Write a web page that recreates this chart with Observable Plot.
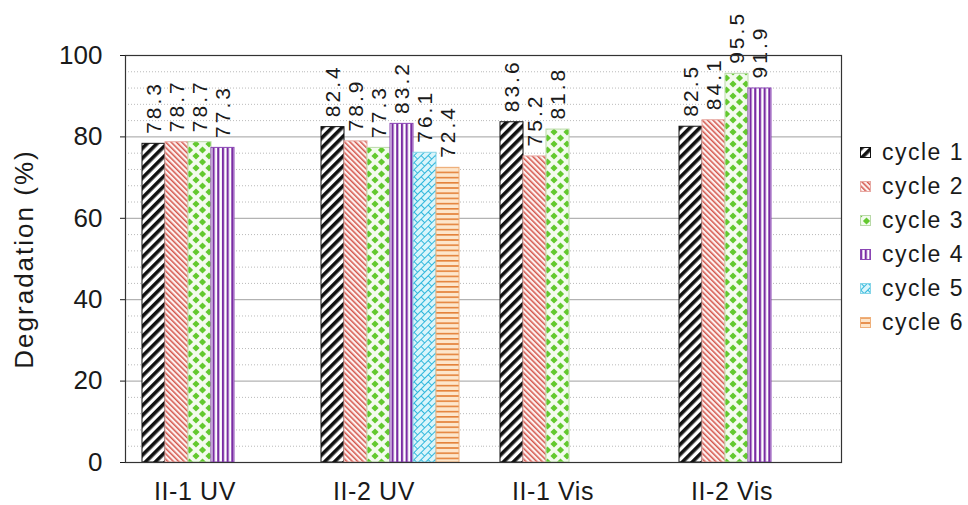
<!DOCTYPE html>
<html>
<head>
<meta charset="utf-8">
<script src="https://cdn.jsdelivr.net/npm/d3@7"></script>
<script src="https://cdn.jsdelivr.net/npm/@observablehq/plot@0.6"></script>
<style>
  html, body { margin: 0; padding: 0; background: #fff; }
  #wrap { position: relative; width: 968px; height: 505px; font-family: "Liberation Sans", Arial, sans-serif; }
  #legend { position: absolute; left: 860px; top: 135px; color: #1a1a1a; font-size: 23px; letter-spacing: 1.5px; }
  #legend .row { display: flex; align-items: center; height: 34px; }
  #legend svg { margin-right: 11px; }
  g[aria-label="text"] text { letter-spacing: 3px; }
  g[aria-label="fx-axis tick label"] text { letter-spacing: 0.6px; }
  g[aria-label="y-axis label"] text { letter-spacing: 2px; }
</style>
</head>
<body>
<!-- fill patterns shared by the bars and the legend swatches -->
<svg width="0" height="0" style="position:absolute">
  <defs>
    <pattern id="pat1" width="7" height="7" patternUnits="userSpaceOnUse" patternTransform="rotate(45)">
      <rect width="7" height="7" fill="#fff"/><rect width="3.6" height="7" fill="#111"/>
    </pattern>
    <pattern id="pat2" width="3.8" height="3.8" patternUnits="userSpaceOnUse" patternTransform="rotate(-45)">
      <rect width="3.8" height="3.8" fill="#fdf1f0"/><rect width="1.5" height="3.8" fill="#d4574d"/>
    </pattern>
    <pattern id="pat3" width="13" height="12" patternUnits="userSpaceOnUse">
      <rect width="13" height="12" fill="#f3fbee"/>
      <path d="M6.5 2.4 L10.1 6 L6.5 9.6 L2.9 6 Z" fill="#63c92f"/>
      <path d="M0 -3.6 L3.6 0 L0 3.6 L-3.6 0 Z M13 -3.6 L16.6 0 L13 3.6 L9.4 0 Z M0 8.4 L3.6 12 L0 15.6 L-3.6 12 Z M13 8.4 L16.6 12 L13 15.6 L9.4 12 Z" fill="#63c92f"/>
    </pattern>
    <pattern id="pat4" width="4.7" height="4.7" patternUnits="userSpaceOnUse">
      <rect width="4.7" height="4.7" fill="#fff"/><rect width="2.2" height="4.7" fill="#7a2ca3"/>
    </pattern>
    <pattern id="pat5" width="10" height="10" patternUnits="userSpaceOnUse" patternTransform="rotate(-45)">
      <rect width="10" height="10" fill="#daf5fb"/>
      <path d="M0 0.5 H10 M0 5.5 H10 M0.5 0.5 V5.5 M5.5 5.5 V10.5" stroke="#2fb7dc" stroke-width="1"/>
    </pattern>
    <pattern id="pat6" width="5.2" height="5.2" patternUnits="userSpaceOnUse">
      <rect width="5.2" height="5.2" fill="#fde6cb"/><rect y="0" width="5.2" height="1.6" fill="#e4823a"/>
    </pattern>
  </defs>
</svg>
<div id="wrap"><div id="legend"></div></div>
<script>
// Photocatalytic degradation (%) per sample and reuse cycle
const categories = ["II-1 UV", "II-2 UV", "II-1 Vis", "II-2 Vis"];
const cycles = ["cycle 1", "cycle 2", "cycle 3", "cycle 4", "cycle 5", "cycle 6"];
const ii1UV = [78.3, 78.7, 78.7, 77.3];
const ii2UV = [82.4, 78.9, 77.3, 83.2, 76.1, 72.4];
const ii1Vis = [83.6, 75.2, 81.8];
const ii2Vis = [82.5, 84.1, 95.5, 91.9];
const yTicks = [0, 20, 40, 60, 80, 100];

const series = [ii1UV, ii2UV, ii1Vis, ii2Vis];
const rows = categories.flatMap((cat, i) =>
  series[i].map((value, j) => ({cat, cycle: cycles[j], value}))
);

const fills = ["url(#pat1)", "url(#pat2)", "url(#pat3)", "url(#pat4)", "url(#pat5)", "url(#pat6)"];
const strokes = ["#111", "#e8a9a3", "#b9d9a8", "#8a45b4", "#86d5e8", "#efb07a"];

const minor = d3.range(4, 100, 4).filter(v => v % 20 !== 0);
const major = [20, 40, 60, 80];

const chart = Plot.plot({
  width: 968,
  height: 505,
  marginLeft: 124,
  marginRight: 127,
  marginTop: 55,
  marginBottom: 43,
  style: {fontFamily: "Liberation Sans, Arial, sans-serif", color: "#1a1a1a", background: "transparent"},
  fx: {domain: categories, padding: 0, label: null},
  x: {domain: cycles, paddingInner: 0, paddingOuter: 0.76, align: 0.42, axis: null},
  y: {domain: [0, 100]},
  marks: [
    Plot.ruleY(minor, {stroke: "#a8a8a8", strokeWidth: 0.8, strokeDasharray: "1,2"}),
    Plot.ruleY(major, {stroke: "#a0a0a0", strokeWidth: 1}),
    ...cycles.map((c, i) =>
      Plot.barY(rows.filter(d => d.cycle === c), {
        fx: "cat", x: "cycle", y: "value",
        fill: fills[i], stroke: strokes[i], strokeWidth: 1, inset: 0
      })
    ),
    Plot.text(rows, {
      fx: "cat", x: "cycle", y: "value",
      text: d => d.value.toFixed(1),
      rotate: -90, textAnchor: "start", dy: -10,
      fontSize: 21, fill: "#1a1a1a"
    }),
    Plot.frame({facet: "super", stroke: "#333", strokeWidth: 1.2}),
    Plot.axisY({
      ticks: yTicks, tickSize: 5, tickPadding: 18, fontSize: 26,
      label: "Degradation (%)", labelAnchor: "center", labelOffset: 111, labelArrow: "none"
    }),
    Plot.axisFx({anchor: "bottom", tickSize: 0, tickPadding: 20, fontSize: 25, dx: -20, label: null})
  ]
});

document.getElementById("wrap").prepend(chart);

// legend with patterned swatches
const legend = d3.select("#legend");
cycles.forEach((c, i) => {
  const row = legend.append("div").attr("class", "row");
  const sw = row.append("svg").attr("width", 11).attr("height", 11);
  sw.append("rect").attr("x", 0.5).attr("y", 0.5).attr("width", 10).attr("height", 10)
    .attr("fill", fills[i]).attr("stroke", strokes[i]);
  row.append("span").text(c);
});
</script>
</body>
</html>
